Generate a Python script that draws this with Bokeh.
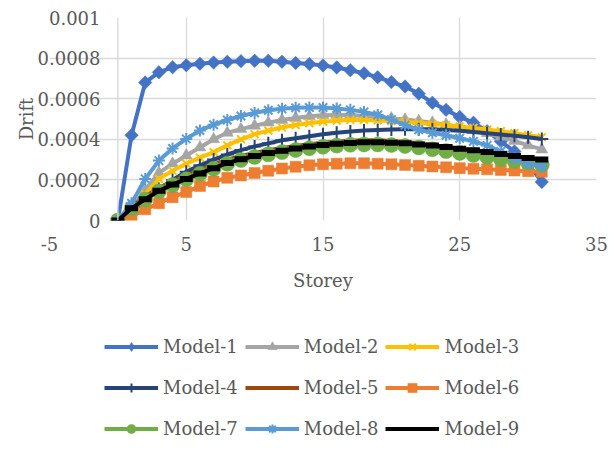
import math
from bokeh.plotting import figure
from bokeh.layouts import column
from bokeh.models import Range1d, FixedTicker, Legend, LegendItem, Span
from bokeh.embed import file_html
from bokeh.resources import INLINE

storey = list(range(32))

model_1 = [0, 0.00042, 0.00068, 0.00073, 0.000755, 0.000765, 0.000772, 0.000778,
           0.000782, 0.000785, 0.000787, 0.000787, 0.000782, 0.000776, 0.000771, 0.000764,
           0.000754, 0.00074, 0.000725, 0.000706, 0.000682, 0.00066, 0.000625, 0.00058,
           0.000545, 0.00051, 0.000482, 0.00044, 0.00039, 0.00034, 0.00028, 0.00019]
model_2 = [0, 0.00006, 0.00015, 0.000235, 0.00028, 0.00032, 0.00036, 0.0004,
           0.000432, 0.00045, 0.000467, 0.000482, 0.000495, 0.000505, 0.000513, 0.000518,
           0.00052, 0.00052, 0.000515, 0.00051, 0.000503, 0.000497, 0.00049, 0.000482,
           0.000472, 0.00046, 0.000445, 0.00043, 0.000412, 0.000392, 0.00037, 0.00035]
model_3 = [0, 0.00005, 0.00013, 0.000205, 0.000245, 0.00028, 0.00031, 0.000337,
           0.00037, 0.0004, 0.000425, 0.000443, 0.000458, 0.00047, 0.00048, 0.000487,
           0.000492, 0.000495, 0.000495, 0.000493, 0.00049, 0.000486, 0.00048, 0.000475,
           0.00047, 0.000463, 0.000456, 0.000448, 0.00044, 0.00043, 0.00042, 0.00041]
model_4 = [0, 0.00004, 0.0001, 0.000155, 0.0002, 0.00024, 0.000272, 0.0003,
           0.000325, 0.000347, 0.000365, 0.00038, 0.000395, 0.000405, 0.000415, 0.000425,
           0.000432, 0.000438, 0.000443, 0.000446, 0.000448, 0.00045, 0.00045, 0.000449,
           0.000446, 0.000442, 0.000436, 0.00043, 0.000424, 0.000417, 0.00041, 0.000402]
model_5 = [0, 0.00007, 0.000118, 0.00016, 0.000193, 0.000222, 0.00025, 0.000275,
           0.0003, 0.000318, 0.000333, 0.000346, 0.000357, 0.000367, 0.000376, 0.000383,
           0.000389, 0.000393, 0.000395, 0.000395, 0.000392, 0.000387, 0.00038, 0.000371,
           0.000362, 0.000353, 0.000343, 0.000333, 0.000323, 0.000314, 0.000304, 0.000295]
model_6 = [0, 0.00002, 0.000055, 0.000085, 0.000115, 0.00014, 0.00017, 0.000192,
           0.00021, 0.000222, 0.000234, 0.000245, 0.000256, 0.000265, 0.000272, 0.000277,
           0.00028, 0.000282, 0.000282, 0.00028, 0.000277, 0.000274, 0.00027, 0.000266,
           0.000262, 0.000258, 0.000255, 0.000252, 0.000249, 0.000246, 0.000243, 0.00024]
model_7 = [0, 0.00006, 0.000103, 0.000144, 0.000175, 0.000203, 0.00023, 0.000255,
           0.00028, 0.000298, 0.000313, 0.000326, 0.000337, 0.000347, 0.000356, 0.000363,
           0.000369, 0.000373, 0.000375, 0.000375, 0.000372, 0.000367, 0.00036, 0.000351,
           0.000342, 0.000333, 0.000323, 0.000313, 0.000303, 0.000294, 0.000284, 0.000275]
model_8 = [0, 0.000085, 0.000205, 0.000295, 0.000355, 0.000402, 0.000443, 0.000472,
           0.000495, 0.000515, 0.00053, 0.000543, 0.00055, 0.000555, 0.000557, 0.000557,
           0.000552, 0.000545, 0.000535, 0.00052, 0.000497, 0.00047, 0.000447, 0.000432,
           0.00042, 0.000405, 0.00039, 0.00037, 0.00034, 0.000305, 0.00028, 0.000265]
model_9 = [0, 0.00006, 0.000105, 0.000146, 0.000177, 0.000205, 0.000232, 0.000258,
           0.000283, 0.000302, 0.000318, 0.000332, 0.000344, 0.000355, 0.000364, 0.000372,
           0.000378, 0.000382, 0.000385, 0.000385, 0.000383, 0.00038, 0.000375, 0.000369,
           0.000362, 0.000354, 0.000346, 0.000337, 0.000328, 0.000318, 0.000308, 0.0003]

series_names = ["Model-1", "Model-2", "Model-3", "Model-4", "Model-5",
                "Model-6", "Model-7", "Model-8", "Model-9"]
series_values = [model_1, model_2, model_3, model_4, model_5,
                 model_6, model_7, model_8, model_9]

x_ticks = [-5, 5, 15, 25, 35]
x_tick_labels = ["-5", "5", "15", "25", "35"]
y_ticks = [0, 0.0002, 0.0004, 0.0006, 0.0008, 0.001]
y_tick_labels = ["0", "0.0002", "0.0004", "0.0006", "0.0008", "0.001"]

colors = ["#4472C4", "#A5A5A5", "#FFC000", "#264478", "#9E480E",
          "#ED7D31", "#70AD47", "#5B9BD5", "#000000"]
# (marker, size, angle, line_width, filled, legend marker)
markers = [("square", 9.5, math.pi / 4, 0, True, "diamond"),
           ("triangle", 12, 0, 0, True, "triangle"),
           ("x", 11, 0, 2, False, "x"),
           ("cross", 13, 0, 2, False, "cross"),
           (None, 0, 0, 0, False, None),
           ("square", 11, 0, 0, True, "square"),
           ("circle", 15, 0, 0, True, "circle"),
           ("asterisk", 12, 0, 2, False, "asterisk"),
           ("dash", 13, 0, 6, False, None)]

FONT = "DejaVu Serif"
TXT = "#595959"
GRID = "#D9D9D9"

# ---------------- main chart ----------------
p = figure(width=616, height=300, output_backend="svg", toolbar_location=None,
           x_range=Range1d(-5, 35), y_range=Range1d(0, 0.001),
           min_border_left=49, min_border_right=20, min_border_top=17,
           min_border_bottom=80)
p.outline_line_color = None
p.background_fill_color = "white"
p.border_fill_color = "white"

xa = p.xaxis[0]
xa.ticker = FixedTicker(ticks=x_ticks)
xa.major_label_overrides = dict(zip(x_ticks, x_tick_labels))
xa.axis_line_color = None
xa.major_tick_line_color = None
xa.minor_tick_line_color = None
xa.major_tick_out = 0
xa.major_tick_in = 0
xa.major_label_standoff = 16
xa.major_label_text_font = FONT
xa.major_label_text_font_size = "18px"
xa.major_label_text_color = TXT
xa.axis_label = "Storey"
xa.axis_label_standoff = 16
xa.axis_label_text_font = FONT
xa.axis_label_text_font_size = "18px"
xa.axis_label_text_font_style = "normal"
xa.axis_label_text_color = TXT

ya = p.yaxis[0]
ya.ticker = FixedTicker(ticks=y_ticks)
ya.major_label_overrides = dict(zip(y_ticks, y_tick_labels))
ya.axis_line_color = None
ya.major_tick_line_color = None
ya.minor_tick_line_color = None
ya.major_tick_out = 0
ya.major_tick_in = 0
ya.major_label_standoff = -51
ya.major_label_text_font = FONT
ya.major_label_text_font_size = "18px"
ya.major_label_text_color = TXT
ya.axis_label = "Drift"
ya.axis_label_standoff = -2
ya.axis_label_text_font = FONT
ya.axis_label_text_font_size = "18px"
ya.axis_label_text_font_style = "normal"
ya.axis_label_text_color = TXT

p.xgrid.grid_line_color = GRID
p.xgrid.grid_line_width = 1.3
p.ygrid.grid_line_color = GRID
p.ygrid.grid_line_width = 1.3

p.add_layout(Span(location=0, dimension="height", line_color=GRID, line_width=1.3))

# ---------------- legend panel (separate figure below the chart) ----------------
q = figure(width=616, height=162, output_backend="svg", toolbar_location=None,
           x_range=Range1d(-5, 35), y_range=Range1d(0, 0.001),
           x_axis_type=None, y_axis_type=None,
           min_border_left=0, min_border_right=0, min_border_top=0,
           min_border_bottom=0)
q.outline_line_color = None
q.xgrid.visible = False
q.ygrid.visible = False
q.background_fill_color = "white"
q.border_fill_color = "white"


def add_series(fig, vals, col, mk, legend_proxy=False):
    m, sz, ang, lw, filled, lm = mk
    visible = not legend_proxy
    if legend_proxy:
        m, ang = lm, 0
    ln = fig.line(storey, vals, line_color=col, line_width=4, visible=visible)
    rends = [ln]
    if m is not None:
        if filled:
            sc = fig.scatter(storey, vals, marker=m, size=sz, angle=ang,
                             fill_color=col, line_color=col, line_width=0.5,
                             visible=visible)
        else:
            sc = fig.scatter(storey, vals, marker=m, size=sz, angle=ang,
                             fill_color=None, line_color=col, line_width=lw,
                             visible=visible)
        rends.append(sc)
    return rends


items = []
for name, vals, col, mk in zip(series_names, series_values, colors, markers):
    add_series(p, vals, col, mk)
    rends = add_series(q, vals, col, mk, legend_proxy=True)
    items.append(LegendItem(label=name, renderers=rends))

row_offsets = [104, 63, 22]
for r, yoff in enumerate(row_offsets):
    lg = Legend(items=items[3 * r:3 * r + 3], orientation="horizontal",
                location=(55, yoff),
                label_text_font=FONT, label_text_font_size="18px",
                label_text_color=TXT, glyph_width=54, glyph_height=23,
                label_height=23, label_standoff=5, spacing=7,
                padding=0, margin=0, border_line_color=None,
                background_fill_alpha=0, inactive_fill_alpha=0)
    q.add_layout(lg)

layout = column(p, q, spacing=0)
open("out.html", "w").write(file_html(layout, INLINE))
